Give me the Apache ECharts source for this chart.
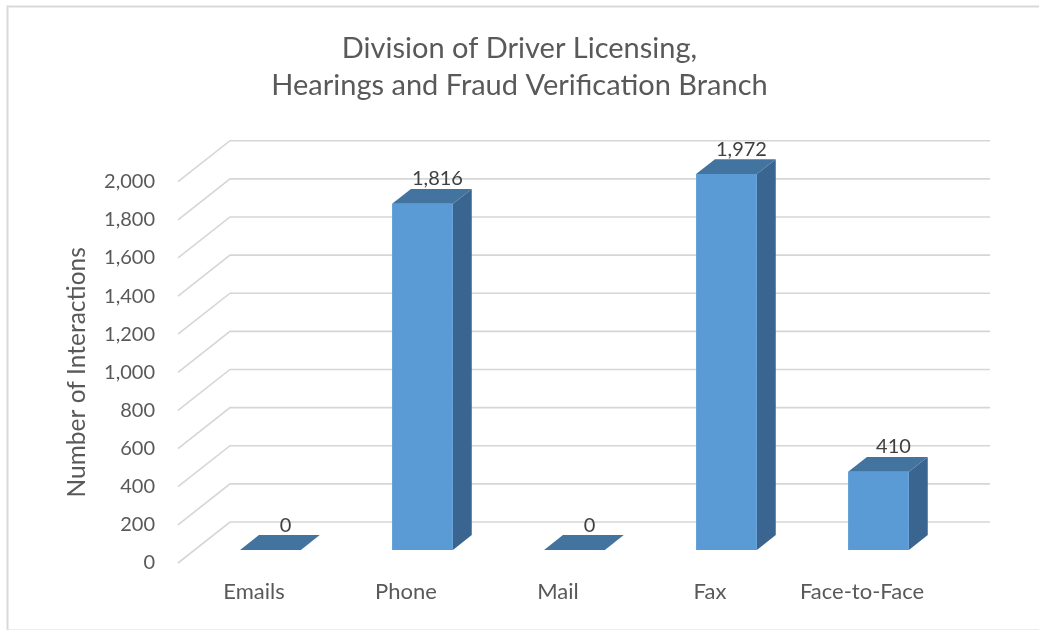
<!DOCTYPE html>
<html>
<head>
<meta charset="utf-8">
<script src="https://cdn.jsdelivr.net/npm/echarts@6/dist/echarts.min.js"></script>
<style>
html,body{margin:0;padding:0;background:#fff;}
#chart{width:1039px;height:630px;}
</style>
</head>
<body>
<div id="chart"></div>
<script>
const categories = ['Emails', 'Phone', 'Mail', 'Fax', 'Face-to-Face'];
const values = [0, 1816, 0, 1972, 410];
const yTicks = [0, 200, 400, 600, 800, 1000, 1200, 1400, 1600, 1800, 2000];
const titleLines = ['Division of Driver Licensing,', 'Hearings and Fraud Verification Branch'];
const yAxisTitle = 'Number of Interactions';

// oblique 3D projection constants (pixels)
const DX = 52, DY = 41;      // full wall depth
const F1 = 0.317, F2 = 0.68; // bar front/back depth fractions
const BAR_W = 0.40;          // bar width relative to band
const FONT = 'Lato, "Open Sans", sans-serif';

const chart = echarts.init(document.getElementById('chart'), null, {renderer: 'canvas'});

function gridItem(params, api) {
  const v = api.value(1);
  const p = api.coord([0, v]);
  const band = api.size([1, 0])[0];
  const x0 = p[0] - band / 2;
  const n = categories.length;
  return {
    type: 'polyline',
    shape: {points: [[x0, p[1]], [x0 + DX, p[1] - DY], [x0 + band * n + DX, p[1] - DY]]},
    style: {stroke: '#d6d6d6', lineWidth: 1.6, fill: null}
  };
}

function barItem(params, api) {
  const idx = api.value(0), v = api.value(1);
  const top = api.coord([idx, v]);
  const base = api.coord([idx, 0]);
  const band = api.size([1, 0])[0];
  const w = band * BAR_W;
  const fx = top[0] - w / 2 + DX * F1;
  const ty = top[1] - DY * F1;
  const by = base[1] - DY * F1;
  const bdx = DX * (F2 - F1), bdy = DY * (F2 - F1);
  const children = [];
  if (by - ty > 0.5) {
    children.push({type: 'polygon', shape: {points: [[fx + w, ty], [fx + w, by], [fx + w + bdx, by - bdy], [fx + w + bdx, ty - bdy]]},
      style: {fill: '#3A6590'}});
    children.push({type: 'rect', shape: {x: fx, y: ty, width: w, height: by - ty},
      style: {fill: '#5B9BD5'}});
  }
  children.push({type: 'polygon', shape: {points: [[fx, ty], [fx + w, ty], [fx + w + bdx, ty - bdy], [fx + bdx, ty - bdy]]},
    style: {fill: '#43739F'}});
  children.push({type: 'text', style: {
    text: echarts.format.addCommas(v), x: top[0] + DX * F1 + 15, y: ty - bdy - 10,
    align: 'center', verticalAlign: 'middle', fill: '#404040', font: '20px ' + FONT}});
  return {type: 'group', children: children};
}

chart.setOption({
  animation: false,
  backgroundColor: '#fff',
  title: {
    text: titleLines.join('\n'),
    left: 'center', top: 25,
    textStyle: {fontFamily: FONT, fontSize: 29, fontWeight: 'normal', color: '#595959', lineHeight: 37}
  },
  graphic: [{
    type: 'rect', left: 5, top: 4, shape: {width: 1040, height: 624},
    style: {fill: null, stroke: '#d9d9d9', lineWidth: 2}, silent: true, z: -10
  }],
  grid: {left: 178, width: 760, top: 181.7, bottom: 67},
  xAxis: {
    type: 'category', data: categories,
    axisLine: {show: false}, axisTick: {show: false}, splitLine: {show: false},
    axisLabel: {interval: 0, margin: 18, fontFamily: FONT, fontSize: 22, color: '#595959'}
  },
  yAxis: {
    type: 'value', min: 0, max: 2000, interval: 200,
    name: yAxisTitle, nameLocation: 'middle', nameGap: 88, nameRotate: 90,
    nameTextStyle: {fontFamily: FONT, fontSize: 24.5, color: '#595959'},
    axisLine: {show: false}, axisTick: {show: false}, splitLine: {show: false},
    axisLabel: {margin: 23, fontFamily: FONT, fontSize: 20, color: '#595959',
      formatter: v => echarts.format.addCommas(v)}
  },
  series: [
    {type: 'custom', name: 'grid', data: yTicks.map(v => [0, v]), renderItem: gridItem, clip: false, silent: true, z: 1},
    {type: 'custom', name: 'Interactions', data: values.map((v, i) => [i, v]), renderItem: barItem, clip: false, z: 2}
  ]
});
</script>
</body>
</html>
